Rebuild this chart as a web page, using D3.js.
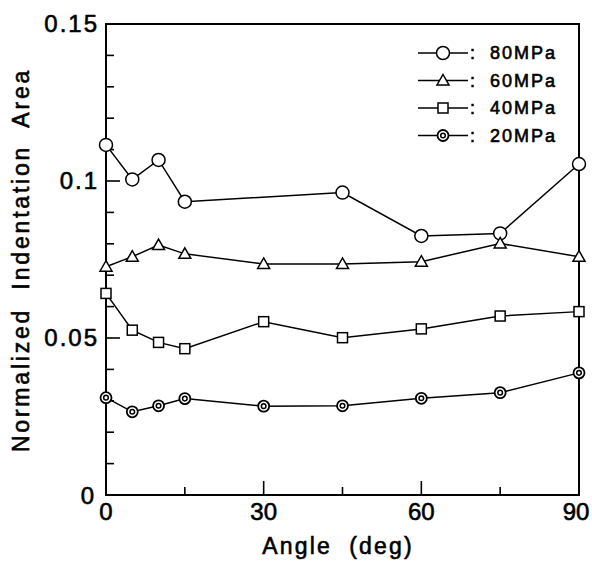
<!DOCTYPE html>
<html>
<head>
<meta charset="utf-8">
<script src="https://cdn.jsdelivr.net/npm/d3@7"></script>
<style>
  body { margin: 0; background: #fff; }
  text { font-family: "Liberation Sans", Arial, sans-serif; fill: #000; stroke: #000; stroke-width: 0.6px; }
</style>
</head>
<body>
<svg width="592" height="563"></svg>
<script>
var angles = [0, 5, 10, 15, 30, 45, 60, 75, 90];
var p80 = [0.1115, 0.1005, 0.1067, 0.0934, null, 0.0963, 0.0825, 0.0833, 0.1054];
var p60 = [0.0727, 0.0759, 0.0796, 0.0768, 0.0736, 0.0736, 0.0743, 0.0801, 0.0759];
var p40 = [0.0642, 0.0525, 0.0486, 0.0466, 0.0552, 0.0501, 0.0529, 0.0570, 0.0584];
var p20 = [0.0310, 0.0265, 0.0284, 0.0307, 0.0283, 0.0284, 0.0308, 0.0326, 0.0389];
var seriesNames = ["80MPa", "60MPa", "40MPa", "20MPa"];
var markers = ["circle", "triangle", "square", "double"];
var xTicks = [0, 30, 60, 90];
var yTicks = [0, 0.05, 0.1, 0.15];

var svg = d3.select("svg");
var L = 106, R = 579, T = 24, B = 495;
var x = d3.scaleLinear().domain([0, 90]).range([L, R]);
var y = d3.scaleLinear().domain([0, 0.15]).range([B, T]);

// frame
svg.append("rect").attr("x", L).attr("y", T).attr("width", R - L).attr("height", B - T)
  .attr("fill", "none").attr("stroke", "#000").attr("stroke-width", 2);

// ticks (inward)
var g = svg.append("g").attr("stroke", "#000").attr("stroke-width", 1.6);
d3.range(0, 0.1501, 0.01).forEach(function(v) {
  var major = Math.abs(v / 0.05 - Math.round(v / 0.05)) < 1e-6;
  g.append("line").attr("x1", L).attr("x2", L + (major ? 14 : 8))
    .attr("y1", y(v)).attr("y2", y(v));
});
d3.range(0, 91, 15).forEach(function(v) {
  var major = v % 30 === 0;
  g.append("line").attr("y1", B).attr("y2", B - (major ? 14 : 8))
    .attr("x1", x(v)).attr("x2", x(v));
});

// tick labels
svg.selectAll(".yl").data(yTicks).enter().append("text")
  .attr("x", function(d) { return d === 0 ? 96 : 99; })
  .attr("y", function(d) { return y(d) + (d === 0 ? 9 : 8); })
  .attr("text-anchor", "end").attr("font-size", 24).attr("letter-spacing", 2)
  .text(function(d) { return d === 0 ? "0" : String(d); });
svg.selectAll(".xl").data(xTicks).enter().append("text")
  .attr("x", function(d) { return Math.min(x(d), 576); }).attr("y", 520)
  .attr("text-anchor", "middle").attr("font-size", 24)
  .text(function(d) { return d; });

// axis titles
svg.append("text").attr("x", 338).attr("y", 554).attr("text-anchor", "middle")
  .attr("font-size", 23).attr("letter-spacing", 2.2).attr("xml:space", "preserve")
  .text("Angle  (deg)");
svg.append("text").attr("transform", "translate(29,260) rotate(-90)")
  .attr("text-anchor", "middle").attr("font-size", 23).attr("letter-spacing", 2.8)
  .attr("xml:space", "preserve")
  .text("Normalized  Indentation  Area");

function drawMarker(sel, type) {
  if (type === "circle") {
    sel.append("circle").attr("r", 6.5).attr("fill", "#fff").attr("stroke", "#000").attr("stroke-width", 1.5);
  } else if (type === "triangle") {
    sel.append("path").attr("d", "M0,-6L6,4.5L-6,4.5Z").attr("fill", "#fff").attr("stroke", "#000").attr("stroke-width", 1.5);
  } else if (type === "square") {
    sel.append("rect").attr("x", -5).attr("y", -5).attr("width", 10).attr("height", 10)
      .attr("fill", "#fff").attr("stroke", "#000").attr("stroke-width", 1.5);
  } else {
    sel.append("circle").attr("r", 5.5).attr("fill", "#fff").attr("stroke", "#000").attr("stroke-width", 1.8);
    sel.append("circle").attr("r", 2.3).attr("fill", "#fff").attr("stroke", "#000").attr("stroke-width", 1.5);
  }
}

var allSeries = [p80, p60, p40, p20];
var line = d3.line()
  .x(function(d) { return x(d.a); }).y(function(d) { return y(d.v); });

allSeries.forEach(function(vals, i) {
  var pts = angles.map(function(a, j) { return {a: a, v: vals[j]}; })
    .filter(function(d) { return d.v !== null; });
  svg.append("path").datum(pts).attr("d", line).attr("fill", "none")
    .attr("stroke", "#000").attr("stroke-width", 1.5);
  pts.forEach(function(d) {
    var m = svg.append("g").attr("transform", "translate(" + x(d.a) + "," + y(d.v) + ")");
    drawMarker(m, markers[i]);
  });
});

// legend
seriesNames.forEach(function(name, i) {
  var ly = 53 + i * 27.5;
  svg.append("line").attr("x1", 418).attr("x2", 468).attr("y1", ly).attr("y2", ly)
    .attr("stroke", "#000").attr("stroke-width", 1.5);
  var m = svg.append("g").attr("transform", "translate(443," + ly + ")");
  drawMarker(m, markers[i]);
  svg.append("text").attr("x", 470).attr("y", ly + 6).attr("font-size", 18)
    .text(":");
  svg.append("text").attr("x", 490).attr("y", ly + 6).attr("font-size", 18)
    .attr("letter-spacing", 2).text(name);
});
</script>
</body>
</html>
